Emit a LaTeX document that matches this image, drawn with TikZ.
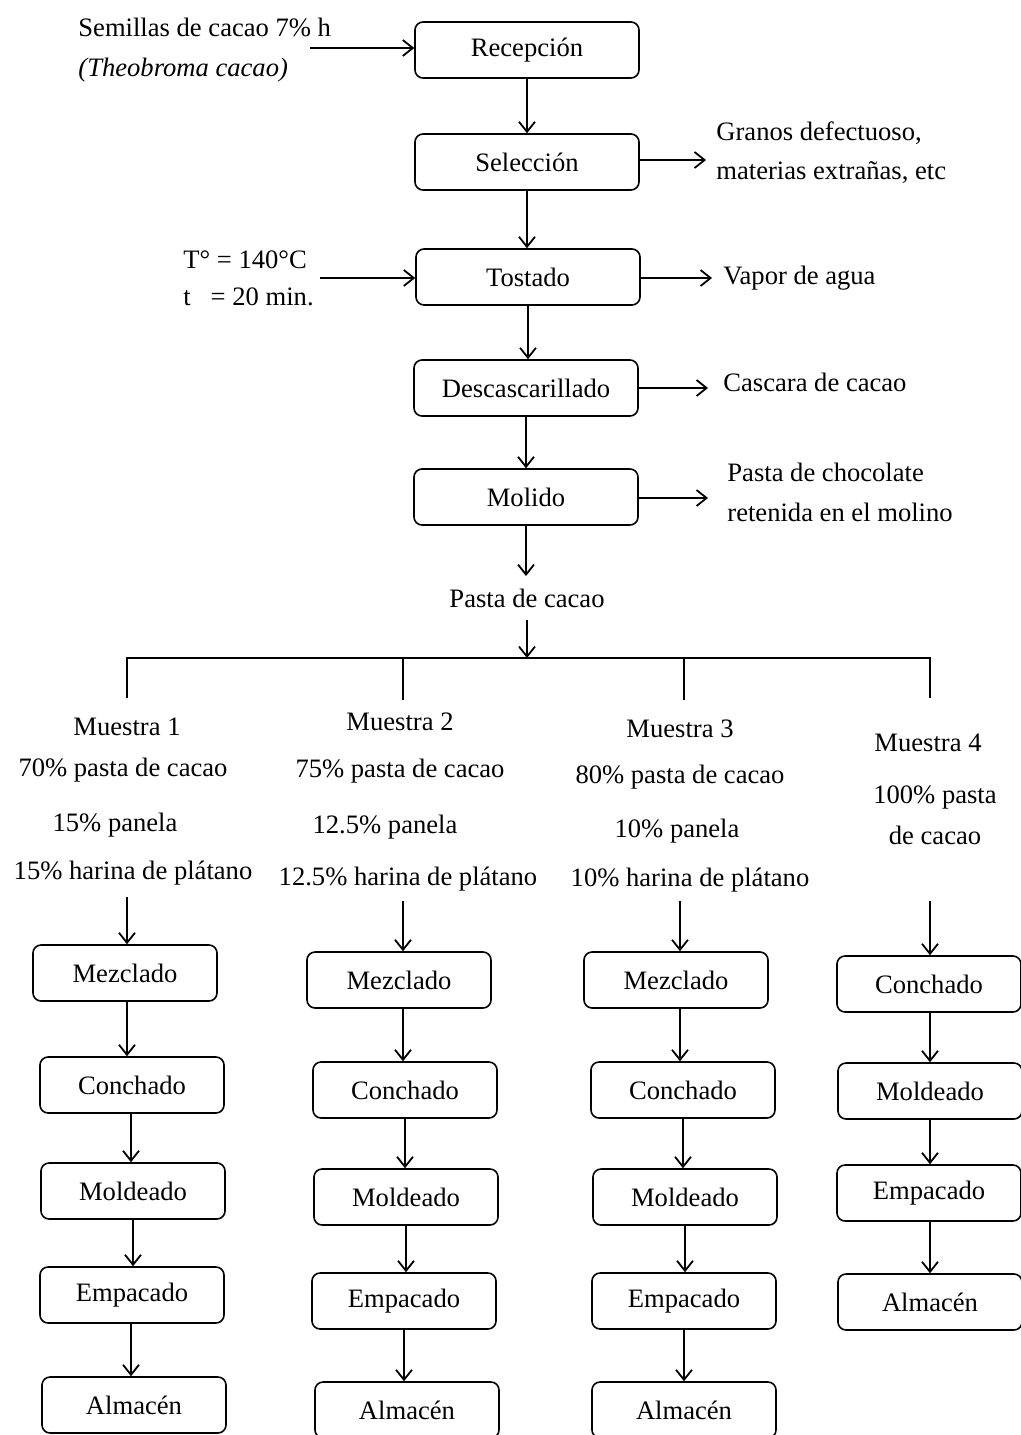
\documentclass[tikz,border=0pt]{standalone}
\usepackage{fontspec}
\setmainfont{Liberation Serif}
\usetikzlibrary{arrows.meta}
\begin{document}
\begin{tikzpicture}[x=0.5pt,y=-0.5pt,
  every node/.append style={font=\fontsize{13.3}{16}\selectfont, inner sep=1pt},
  bigbox/.style={draw, line width=0.8pt, rounded corners=4pt, minimum width=112pt, minimum height=28pt},
  smallbox/.style={draw, line width=0.8pt, rounded corners=4pt, minimum width=92pt, minimum height=28pt},
  arr/.style={line width=0.9pt, -{Straight Barb[length=5pt,width=8pt,line width=0.9pt]}},
  ln/.style={line width=0.9pt},
  lbl/.style={anchor=west}]
\useasboundingbox (0,0) rectangle (1021,1435);

% main column
\node[bigbox] (rec) at (527,50) {Recepción};
\node[bigbox] (sel) at (527,162) {Selección};
\node[bigbox] (tos) at (528,277) {Tostado};
\node[bigbox] (des) at (526,388) {Descascarillado};
\node[bigbox] (mol) at (526,497) {Molido};
\node (pas) at (527,598) {Pasta de cacao};

\draw[arr] (rec.south) -- (rec.south |- sel.north);
\draw[arr] (sel.south) -- (sel.south |- tos.north);
\draw[arr] (tos.south) -- (tos.south |- des.north);
\draw[arr] (des.south) -- (des.south |- mol.north);
\coordinate (pin) at (526,576);
\draw[arr] (mol.south) -- (pin);

% inputs
\node[lbl] (sem1) at (76,27) {Semillas de cacao 7\% h};
\node[lbl] (sem2) at (76,70) {\itshape (Theobroma cacao)};
\coordinate (sin) at (310,48);
\draw[arr] (sin) -- (sin -| rec.west);

\node[lbl] (tem1) at (181,260) {T° = 140°C};
\node[lbl] (tem2) at (181,297) {t\ \ \ = 20 min.};
\coordinate (tin) at (320,278);
\draw[arr] (tin) -- (tin -| tos.west);

% outputs
\node[lbl] (gra1) at (714,133) {Granos defectuoso,};
\node[lbl] (gra2) at (714,173) {materias extrañas, etc};
\coordinate (gout) at (706,160);
\draw[arr] (sel.east |- gout) -- (gout);

\node[lbl] (vap) at (721,278) {Vapor de agua};
\coordinate (vout) at (712,278);
\draw[arr] (tos.east |- vout) -- (vout);

\node[lbl] (cas) at (721,382) {Cascara de cacao};
\coordinate (cout) at (708,388);
\draw[arr] (des.east |- cout) -- (cout);

\node[lbl] (pch1) at (725,472) {Pasta de chocolate};
\node[lbl] (pch2) at (725,512) {retenida en el molino};
\coordinate (pout) at (708,498);
\draw[arr] (mol.east |- pout) -- (pout);

% branching
\coordinate (pst) at (527,620);
\coordinate (br) at (527,658);
\coordinate (b1) at (127,658);
\coordinate (b2) at (403,658);
\coordinate (b3) at (684,658);
\coordinate (b4) at (930,658);
\coordinate (d1) at (127,698);
\coordinate (d2) at (403,700);
\coordinate (d3) at (684,700);
\coordinate (d4) at (930,698);
\draw[arr] (pst) -- (br);
\draw[ln] (d1) -- (b1) -- (b4) -- (d4);
\draw[ln] (b2) -- (d2);
\draw[ln] (b3) -- (d3);

% sample descriptions
\node (m1) at (127,727) {Muestra 1};
\node (m1a) at (123,770) {70\% pasta de cacao};
\node (m1b) at (115,825) {15\% panela};
\node (m1c) at (133,873) {15\% harina de plátano};

\node (m2) at (400,722) {Muestra 2};
\node (m2a) at (400,771) {75\% pasta de cacao};
\node (m2b) at (385,827) {12.5\% panela};
\node (m2c) at (408,879) {12.5\% harina de plátano};

\node (m3) at (680,729) {Muestra 3};
\node (m3a) at (680,777) {80\% pasta de cacao};
\node (m3b) at (677,831) {10\% panela};
\node (m3c) at (690,880) {10\% harina de plátano};

\node (m4) at (928,743) {Muestra 4};
\node (m4a) at (935,797) {100\% pasta};
\node (m4b) at (935,835) {de cacao};

% column 1
\node[smallbox] (a1) at (125,973) {Mezclado};
\node[smallbox] (a2) at (132,1085) {Conchado};
\node[smallbox] (a3) at (133,1191) {Moldeado};
\node[smallbox] (a4) at (132,1295) {Empacado};
\node[smallbox] (a5) at (134,1405) {Almacén};
\coordinate (s1) at (127,897);
\draw[arr] (s1) -- (s1 |- a1.north);
\draw[arr] (a1.south -| 127,0) -- (127,0 |- a2.north);
\draw[arr] (a2.south -| 131,0) -- (131,0 |- a3.north);
\draw[arr] (a3.south -| 133,0) -- (133,0 |- a4.north);
\draw[arr] (a4.south -| 131,0) -- (131,0 |- a5.north);

% column 2
\node[smallbox] (c1) at (399,980) {Mezclado};
\node[smallbox] (c2) at (405,1090) {Conchado};
\node[smallbox] (c3) at (406,1197) {Moldeado};
\node[smallbox] (c4) at (404,1301) {Empacado};
\node[smallbox] (c5) at (407,1410) {Almacén};
\coordinate (s2) at (403,901);
\draw[arr] (s2) -- (s2 |- c1.north);
\draw[arr] (c1.south -| 403,0) -- (403,0 |- c2.north);
\draw[arr] (c2.south -| 405,0) -- (405,0 |- c3.north);
\draw[arr] (c3.south -| 406,0) -- (406,0 |- c4.north);
\draw[arr] (c4.south -| 404,0) -- (404,0 |- c5.north);

% column 3
\node[smallbox] (e1) at (676,980) {Mezclado};
\node[smallbox] (e2) at (683,1090) {Conchado};
\node[smallbox] (e3) at (685,1197) {Moldeado};
\node[smallbox] (e4) at (684,1301) {Empacado};
\node[smallbox] (e5) at (684,1410) {Almacén};
\coordinate (s3) at (680,901);
\draw[arr] (s3) -- (s3 |- e1.north);
\draw[arr] (e1.south -| 680,0) -- (680,0 |- e2.north);
\draw[arr] (e2.south -| 683,0) -- (683,0 |- e3.north);
\draw[arr] (e3.south -| 685,0) -- (685,0 |- e4.north);
\draw[arr] (e4.south -| 684,0) -- (684,0 |- e5.north);

% column 4
\node[smallbox] (f1) at (929,984) {Conchado};
\node[smallbox] (f2) at (930,1091) {Moldeado};
\node[smallbox] (f3) at (929,1193) {Empacado};
\node[smallbox] (f4) at (930,1302) {Almacén};
\coordinate (s4) at (930,901);
\draw[arr] (s4) -- (s4 |- f1.north);
\draw[arr] (f1.south -| 930,0) -- (930,0 |- f2.north);
\draw[arr] (f2.south -| 930,0) -- (930,0 |- f3.north);
\draw[arr] (f3.south -| 930,0) -- (930,0 |- f4.north);
\end{tikzpicture}
\end{document}
